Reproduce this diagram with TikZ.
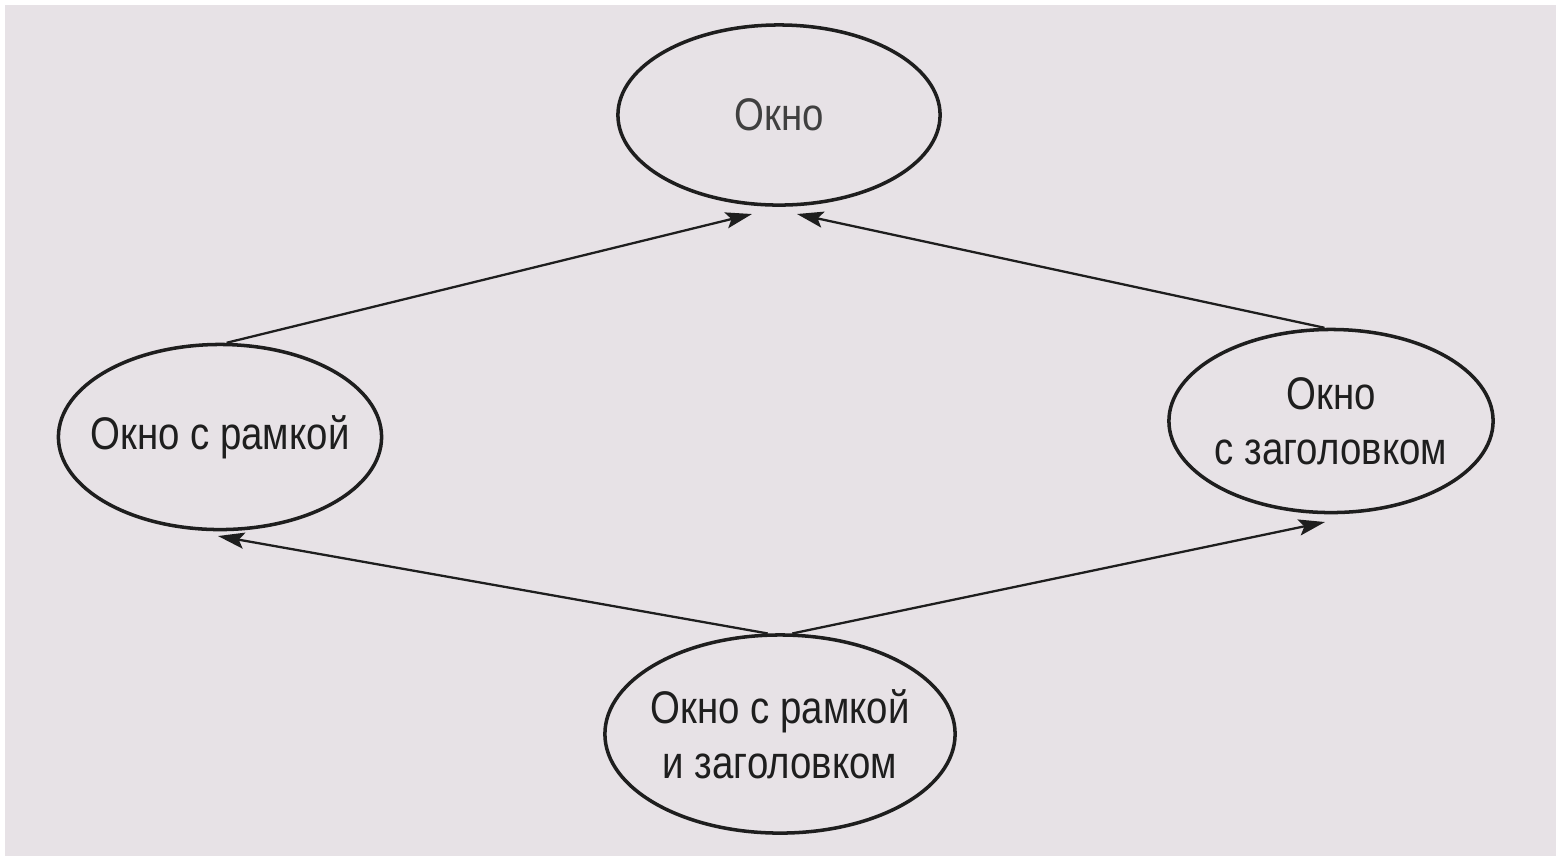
\documentclass[tikz,border=0pt]{standalone}
\usepackage{fontspec}
\setmainfont[FakeStretch=0.84]{Liberation Sans}
\usetikzlibrary{shapes.geometric,arrows.meta}
\definecolor{paper}{HTML}{E7E2E6}
\definecolor{ink}{HTML}{1E1E1E}
\begin{document}
\begin{tikzpicture}[x=0.01cm,y=-0.01cm,
  class/.style={ellipse,draw=ink,line width=1pt,inner sep=0pt},
  caption/.style={align=center,text=ink,inner sep=0pt,
    font=\fontsize{13}{15.6}\selectfont},
  inherit/.style={draw=ink,line width=0.65pt,
    -{Stealth[length=7.5pt,width=4.6pt,inset=1.5pt]}}]
  % page and paper tone
  \fill[white] (0,0) rectangle (1558,856);
  \fill[paper] (5,5) rectangle (1556,856);
  \useasboundingbox (0,0) rectangle (1558,856);

  % classes: fixed outlines, captions set at the centre
  \node[class,minimum width=3.22cm,minimum height=1.80cm,
    label={[caption,text=ink!85]center:Окно}] (win) at (779,115) {};
  \node[class,minimum width=3.23cm,minimum height=1.85cm,
    label={[caption]center:Окно с рамкой}] (frame) at (220,437) {};
  \node[class,minimum width=3.24cm,minimum height=1.83cm,
    label={[caption]center:{Окно\\с заголовком}}] (title) at (1331,421) {};
  \node[class,minimum width=3.50cm,minimum height=1.98cm,
    label={[caption]center:{Окно с рамкой\\и заголовком}}] (both) at (780,734) {};

  % arrow tips, just off the target outlines
  \coordinate (tipWL) at (752,214);
  \coordinate (tipWR) at (797,214);
  \coordinate (tipF) at (218,536);
  \coordinate (tipT) at (1325,522);

  % inheritance
  \draw[inherit] (frame.86) -- (tipWL);
  \draw[inherit] (title.94) -- (tipWR);
  \draw[inherit] (both.97) -- (tipF);
  \draw[inherit] (both.83) -- (tipT);
\end{tikzpicture}
\end{document}
